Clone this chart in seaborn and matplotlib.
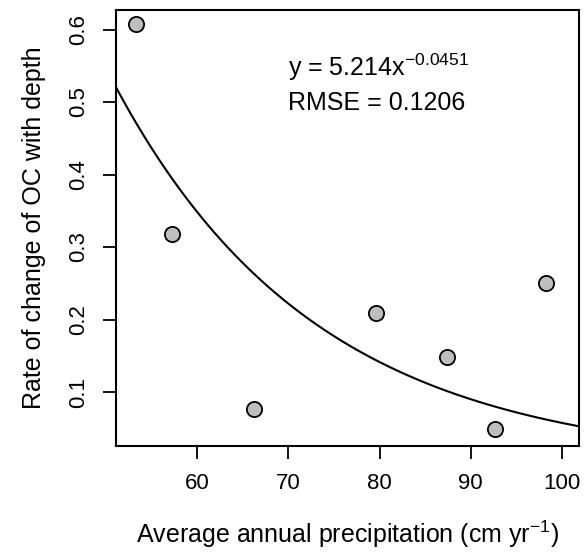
import numpy as np
import pandas as pd
import matplotlib
matplotlib.use("Agg")
import matplotlib.pyplot as plt
import seaborn as sns

# Data
precip = [53.3, 57.2, 66.2, 79.6, 87.4, 92.7, 98.3]
rate = [0.607, 0.318, 0.076, 0.209, 0.148, 0.049, 0.251]
coef_a = 5.214
coef_b = 0.0451
x_ticks = [60, 70, 80, 90, 100]
y_ticks = [0.1, 0.2, 0.3, 0.4, 0.5, 0.6]

sns.set_theme(style="white")
plt.rcParams['font.family'] = ['Liberation Sans', 'DejaVu Sans']
plt.rcParams['mathtext.fontset'] = 'custom'
plt.rcParams['mathtext.rm'] = 'Liberation Sans'
plt.rcParams['mathtext.it'] = 'Liberation Sans'
plt.rcParams['mathtext.default'] = 'regular'
for k in ['text.color', 'axes.labelcolor', 'xtick.color', 'ytick.color']:
    plt.rcParams[k] = 'black'

fig = plt.figure(figsize=(5.86, 5.52), dpi=100)
ax = fig.add_axes([0.198, 0.192, 0.7906, 0.7899])

xmin, xmax = 51.1, 101.9
xs = np.linspace(xmin, xmax, 200)
curve = pd.DataFrame({"x": xs, "y": coef_a * np.exp(-coef_b * xs)})
pts = pd.DataFrame({"precip": precip, "rate": rate})

sns.lineplot(data=curve, x="x", y="y", ax=ax, color="black", linewidth=1.5)
sns.scatterplot(data=pts, x="precip", y="rate", ax=ax, s=120, color="#BEBEBE",
                edgecolor="black", linewidth=1.3, zorder=3)

ax.set_xlim(xmin, xmax)
ax.set_ylim(0.0255, 0.627)
ax.set_xticks(x_ticks)
ax.set_yticks(y_ticks)
ax.set_xticklabels([str(t) for t in x_ticks])
ax.set_yticklabels([f"{t:.1f}" for t in y_ticks], rotation=90, va="center")
ax.tick_params(axis="both", direction="out", length=9.5, width=1.3, color="black",
               labelsize=16, labelcolor="black", pad=10, bottom=True, left=True)
for sp in ax.spines.values():
    sp.set_color("black")
    sp.set_linewidth(1.5)

ax.set_xlabel("Average annual precipitation (cm yr$^{-1}$)", fontsize=18, labelpad=18)
ax.set_ylabel("Rate of change of OC with depth", fontsize=18, labelpad=16)

ax.text(70.0, 0.548, "y = 5.214x$^{-0.0451}$", fontsize=18, ha="left", va="center")
ax.text(70.0, 0.499, "RMSE = 0.1206", fontsize=18, ha="left", va="center")

fig.savefig("out.png", dpi=100)
